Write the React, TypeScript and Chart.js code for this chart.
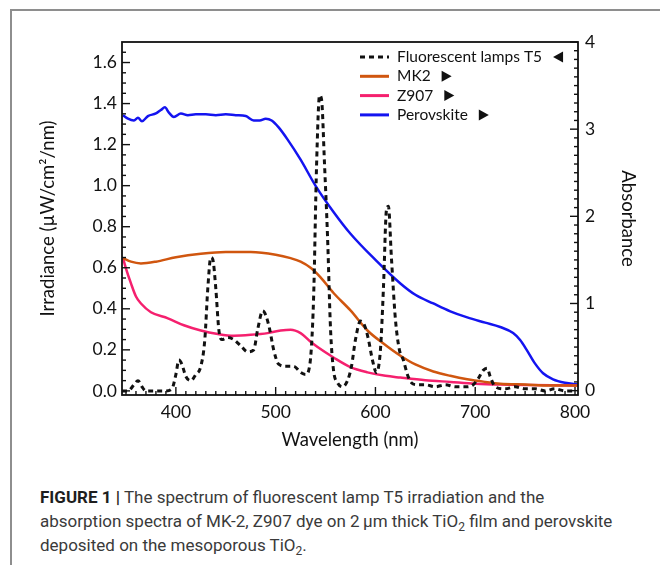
import React, { useEffect, useRef } from 'react';
import { Chart, registerables } from 'chart.js';

Chart.register(...registerables);

// ---------- data ----------
const lampWl = [346, 352, 358, 362, 366, 370, 380, 390, 396, 400, 403, 406, 410, 415, 420, 425, 429, 432, 435, 437, 440, 443, 446, 452, 458, 465, 472, 478, 482, 487, 490, 494, 498, 503, 510, 518, 525, 530, 534, 538, 541, 544, 546, 549, 552, 555, 558, 562, 567, 572, 576, 580, 585, 589, 593, 597, 601, 605, 608, 611, 613, 616, 620, 624, 628, 632, 636, 642, 650, 660, 670, 680, 690, 698, 703, 708, 712, 715, 720, 730, 740, 750, 760, 770, 780, 790, 800];
const lampIrr = [0.0, 0.0, 0.03, 0.05, 0.02, 0.0, 0.0, 0.0, 0.01, 0.08, 0.15, 0.13, 0.07, 0.05, 0.08, 0.12, 0.25, 0.5, 0.65, 0.64, 0.5, 0.3, 0.25, 0.26, 0.25, 0.22, 0.19, 0.2, 0.3, 0.39, 0.37, 0.3, 0.2, 0.13, 0.12, 0.12, 0.09, 0.08, 0.12, 0.45, 1.1, 1.44, 1.42, 1.1, 0.75, 0.3, 0.1, 0.04, 0.02, 0.05, 0.12, 0.25, 0.34, 0.32, 0.25, 0.15, 0.09, 0.2, 0.5, 0.88, 0.9, 0.65, 0.35, 0.2, 0.15, 0.08, 0.04, 0.03, 0.03, 0.02, 0.03, 0.02, 0.02, 0.03, 0.06, 0.1, 0.11, 0.07, 0.02, 0.01, 0.02, 0.01, 0.01, 0.0, 0.01, 0.0, 0.0];

const mk2Wl = [347, 355, 365, 380, 400, 425, 450, 475, 500, 515, 525, 535, 545, 558, 575, 592, 608, 625, 640, 658, 675, 692, 710, 725, 750, 775, 803];
const mk2Abs = [1.52, 1.48, 1.46, 1.48, 1.53, 1.57, 1.59, 1.59, 1.56, 1.52, 1.48, 1.41, 1.3, 1.12, 0.92, 0.69, 0.54, 0.4, 0.3, 0.22, 0.17, 0.13, 0.1, 0.08, 0.07, 0.06, 0.06];

const z907Wl = [347, 350, 355, 360, 365, 375, 392, 408, 425, 442, 458, 475, 492, 505, 515, 525, 535, 542, 558, 575, 592, 610, 625, 650, 675, 700, 725, 803];
const z907Abs = [1.52, 1.4, 1.23, 1.08, 1.0, 0.9, 0.83, 0.75, 0.69, 0.65, 0.63, 0.64, 0.66, 0.69, 0.7, 0.66, 0.56, 0.5, 0.38, 0.27, 0.21, 0.17, 0.15, 0.12, 0.1, 0.08, 0.07, 0.06];

const perovWl = [347, 352, 358, 362, 366, 372, 380, 385, 389, 393, 398, 405, 412, 420, 430, 440, 450, 460, 470, 478, 484, 490, 496, 503, 512, 525, 540, 558, 575, 600, 625, 640, 658, 675, 692, 710, 725, 738, 745, 752, 760, 768, 778, 790, 803];
const perovAbs = [3.16, 3.12, 3.1, 3.13, 3.09, 3.15, 3.18, 3.22, 3.25, 3.19, 3.14, 3.18, 3.16, 3.17, 3.17, 3.16, 3.17, 3.16, 3.15, 3.1, 3.1, 3.12, 3.1, 3.02, 2.88, 2.65, 2.35, 2.05, 1.8, 1.5, 1.23, 1.1, 1.0, 0.91, 0.84, 0.78, 0.73, 0.66, 0.58, 0.46, 0.31, 0.2, 0.13, 0.09, 0.07];

const xTicks = [400, 500, 600, 700, 800];
const yTicks = [0, 0.2, 0.4, 0.6, 0.8, 1.0, 1.2, 1.4, 1.6];
const y2Ticks = [0, 1, 2, 3, 4];

const seriesLabels = ['Fluorescent lamps T5', 'MK2', 'Z907', 'Perovskite'];
const seriesColors = ['#111111', '#d0560f', '#f5206e', '#1414f0'];
const seriesArrow = ['left', 'right', 'right', 'right'];

const xTitle = 'Wavelength (nm)';
const yTitle = 'Irradiance (\u00b5W/cm\u00b2/nm)';
const y2Title = 'Absorbance';

// ---------- styles ----------
const FONT = 'Lato';
const TICK_FONT = { family: FONT, size: 17.5 };
const TITLE_FONT = { family: FONT, size: 18.5 };
const TEXT_COLOR = '#111';

const toPts = (xs: number[], ys: number[]) => xs.map((x, i) => ({ x, y: ys[i] }));

const frameTicksPlugin = {
  id: 'frameTicks',
  afterDatasetsDraw(chart: any) {
    const { ctx, chartArea: a, scales } = chart;
    ctx.save();
    ctx.strokeStyle = '#111';
    ctx.lineWidth = 1.8;
    ctx.setLineDash([]);
    ctx.strokeRect(a.left, a.top, a.right - a.left, a.bottom - a.top);
    ctx.lineWidth = 1.4;
    const drawTick = (x1: number, y1: number, x2: number, y2: number) => {
      ctx.beginPath();
      ctx.moveTo(x1, y1);
      ctx.lineTo(x2, y2);
      ctx.stroke();
    };
    const sx = scales.x;
    for (let v = 350; v <= 800; v += 10) {
      const px = sx.getPixelForValue(v);
      const len = v % 100 === 0 ? 8 : 4;
      drawTick(px, a.bottom, px, a.bottom - len);
    }
    const sy = scales.y;
    for (let i = 0; i <= 33; i++) {
      const py = sy.getPixelForValue(i * 0.05);
      const len = i % 4 === 0 ? 8 : 4;
      drawTick(a.left, py, a.left + len, py);
    }
    const sy2 = scales.y2;
    for (let i = 0; i <= 40; i++) {
      const py = sy2.getPixelForValue(i * 0.1);
      const len = i % 10 === 0 ? 8 : 4;
      drawTick(a.right, py, a.right - len, py);
    }
    ctx.restore();
  },
};

const legendPlugin = {
  id: 'insideLegend',
  afterDraw(chart: any) {
    const { ctx, chartArea: a } = chart;
    const x0 = a.left + 238;
    const y0 = a.top + 15;
    const dy = 19.3;
    ctx.save();
    ctx.font = `15.5px ${FONT}`;
    ctx.textBaseline = 'middle';
    ctx.textAlign = 'left';
    seriesLabels.forEach((label, i) => {
      const y = y0 + i * dy;
      ctx.beginPath();
      ctx.strokeStyle = seriesColors[i];
      ctx.lineWidth = 3;
      ctx.setLineDash(i === 0 ? [5, 4] : []);
      ctx.moveTo(x0, y);
      ctx.lineTo(x0 + 29, y);
      ctx.stroke();
      ctx.setLineDash([]);
      ctx.fillStyle = TEXT_COLOR;
      const tx = x0 + 37;
      ctx.fillText(label, tx, y);
      const w = ctx.measureText(label).width;
      const cx = tx + w + 16;
      ctx.beginPath();
      if (seriesArrow[i] === 'left') {
        ctx.moveTo(cx - 5, y);
        ctx.lineTo(cx + 5, y - 5.5);
        ctx.lineTo(cx + 5, y + 5.5);
      } else {
        ctx.moveTo(cx + 5, y);
        ctx.lineTo(cx - 5, y - 5.5);
        ctx.lineTo(cx - 5, y + 5.5);
      }
      ctx.closePath();
      ctx.fill();
    });
    ctx.restore();
  },
};

export default function App() {
  const ref = useRef<HTMLCanvasElement | null>(null);

  useEffect(() => {
    if (!ref.current) return;
    const chart = new Chart(ref.current, {
      type: 'line',
      data: {
        datasets: [
          {
            label: seriesLabels[0],
            data: toPts(lampWl, lampIrr),
            borderColor: seriesColors[0],
            borderWidth: 3,
            borderDash: [5, 4],
            pointRadius: 0,
            cubicInterpolationMode: 'monotone',
            yAxisID: 'y',
          },
          {
            label: seriesLabels[1],
            data: toPts(mk2Wl, mk2Abs),
            borderColor: seriesColors[1],
            borderWidth: 2.5,
            pointRadius: 0,
            cubicInterpolationMode: 'monotone',
            yAxisID: 'y2',
          },
          {
            label: seriesLabels[2],
            data: toPts(z907Wl, z907Abs),
            borderColor: seriesColors[2],
            borderWidth: 2.5,
            pointRadius: 0,
            cubicInterpolationMode: 'monotone',
            yAxisID: 'y2',
          },
          {
            label: seriesLabels[3],
            data: toPts(perovWl, perovAbs),
            borderColor: seriesColors[3],
            borderWidth: 2.5,
            pointRadius: 0,
            cubicInterpolationMode: 'monotone',
            yAxisID: 'y2',
          },
        ],
      },
      options: {
        responsive: false,
        animation: false,
        events: [],
        layout: { padding: { top: 42, left: 0, right: 0, bottom: 0 } },
        plugins: { legend: { display: false }, tooltip: { enabled: false } },
        scales: {
          x: {
            type: 'linear',
            position: 'bottom',
            min: 346,
            max: 803,
            grid: { display: false, drawTicks: false },
            border: { display: false },
            afterBuildTicks: (s: any) => { s.ticks = xTicks.map((v) => ({ value: v })); },
            afterFit: (s: any) => { s.height = 65; },
            ticks: { font: TICK_FONT, color: TEXT_COLOR, padding: 7, maxRotation: 0 },
            title: { display: true, text: xTitle, font: TITLE_FONT, color: TEXT_COLOR, padding: { top: 0, bottom: 9 } },
          },
          y: {
            type: 'linear',
            position: 'left',
            min: -0.02,
            max: 1.7,
            grid: { display: false, drawTicks: false },
            border: { display: false },
            afterBuildTicks: (s: any) => { s.ticks = yTicks.map((v) => ({ value: v })); },
            afterFit: (s: any) => { s.width = 122; },
            ticks: { font: TICK_FONT, color: TEXT_COLOR, padding: 5, callback: (v: any) => Number(v).toFixed(1) },
            title: { display: true, text: yTitle, font: TITLE_FONT, color: TEXT_COLOR, padding: { top: 37, bottom: 0 } },
          },
          y2: {
            type: 'linear',
            position: 'right',
            min: -0.05,
            max: 4,
            grid: { display: false, drawTicks: false },
            border: { display: false },
            afterBuildTicks: (s: any) => { s.ticks = y2Ticks.map((v) => ({ value: v })); },
            afterFit: (s: any) => { s.width = 82; },
            ticks: { font: TICK_FONT, color: TEXT_COLOR, padding: 7, callback: (v: any) => String(v) },
            title: { display: true, text: y2Title, font: TITLE_FONT, color: TEXT_COLOR, padding: { top: 21, bottom: 0 } },
          },
        },
      },
      plugins: [frameTicksPlugin, legendPlugin],
    } as any);
    return () => chart.destroy();
  }, []);

  return (
    <div style={{ position: 'absolute', left: 0, top: 0, width: 660, height: 565, overflow: 'hidden', background: '#fff' }}>
      <div
        style={{
          position: 'absolute',
          left: 10,
          top: 9,
          width: 650,
          height: 556,
          boxSizing: 'border-box',
          borderLeft: '2px solid #8e8e8e',
          borderTop: '2px solid #8e8e8e',
        }}
      />
      <canvas ref={ref} width={660} height={460} style={{ position: 'absolute', left: 0, top: 0, width: 660, height: 460 }} />
      <div
        style={{
          position: 'absolute',
          left: 40,
          top: 485,
          whiteSpace: 'nowrap',
          fontFamily: 'Roboto, "Liberation Sans", sans-serif',
          fontSize: 17,
          lineHeight: '24px',
          color: '#3a3a3a',
        }}
      >
        <span style={{ fontWeight: 700, color: '#1e1e1e' }}>FIGURE 1 |</span> The spectrum of fluorescent lamp T5 irradiation and the
        <br />
        absorption spectra of MK-2, Z907 dye on 2&#8201;µm thick TiO<sub style={{ fontSize: 12, lineHeight: 0 }}>2</sub> film and perovskite
        <br />
        deposited on the mesoporous TiO<sub style={{ fontSize: 12, lineHeight: 0 }}>2</sub>.
      </div>
    </div>
  );
}
